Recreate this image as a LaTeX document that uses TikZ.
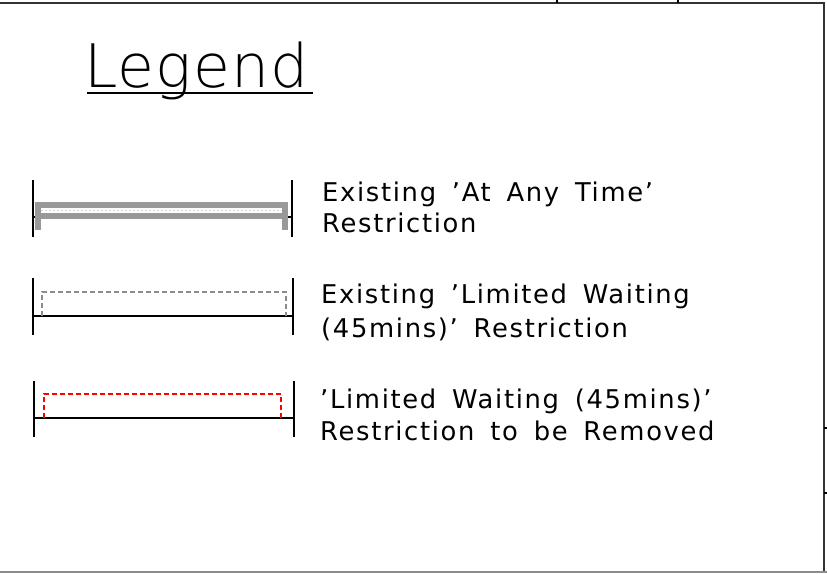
\documentclass[tikz,border=0pt]{standalone}
\usepackage{fontspec}
\newfontfamily\titlefont{DejaVu Sans ExtraLight}[LetterSpace=2]
\newfontfamily\bodyfont{DejaVu Sans}[LetterSpace=6.5,WordSpace=1.6]
\begin{document}
\begin{tikzpicture}[x=1pt,y=-1pt,
  frame/.style={line width=2pt,draw=black!80},
  tick/.style={line width=1.2pt,draw=black},
  post/.style={line width=1.6pt,draw=black},
  base/.style={line width=1.6pt,draw=black},
  atany/.style={line width=5.5pt,draw=black!40},
  atanymid/.style={line width=1pt,draw=black!15,dash pattern=on 2pt off 2pt},
  lwgrey/.style={line width=1.2pt,draw=black!45,dash pattern=on 5pt off 3pt},
  lwred/.style={line width=1.6pt,draw=red,dash pattern=on 5pt off 3pt},
  label/.style={anchor=base west,inner sep=0pt,font=\bodyfont\fontsize{25.8}{30}\selectfont},
]
\useasboundingbox (0,0) rectangle (827,573);
% frame
\draw[frame] (0,3) -- (824,3) -- (824,572);
\draw[line width=1.5pt,draw=black!45] (0,572) -- (827,572);
\draw[tick] (557,0) -- (557,3);
\draw[tick] (678,0) -- (678,3);
\draw[tick] (824,428) -- (827,428);
\draw[tick] (824,493) -- (827,493);
% title
\node[anchor=base west,inner sep=0pt,font=\titlefont\fontsize{60}{60}\selectfont] (title) at (84,87) {Legend};
\draw[line width=1.5pt] (87,93) -- (313,93);
% entry 1
\coordinate (a1) at (33,180); \coordinate (a2) at (33,237);
\coordinate (b1) at (292,180); \coordinate (b2) at (292,237);
\draw[post] (a1) -- (a2);
\draw[post] (b1) -- (b2);
\draw[base] (33,217) -- (292,217);
\draw[atany,line cap=butt,line join=miter] (38,230) -- (38,205) -- (285,205) -- (285,230);
\draw[atany] (41,216) -- (282,216);
\draw[atanymid] (41,210.5) -- (282,210.5);
\node[label] (l1a) at (322,201) {Existing ’At Any Time’};
\node[label] (l1b) at (322,232) {Restriction};
% entry 2
\draw[post] (33,278) -- (33,335);
\draw[post] (293,278) -- (293,335);
\draw[base] (33,316) -- (293,316);
\draw[lwgrey] (42,316) -- (42,292) -- (286,292) -- (286,316);
\node[label] (l2a) at (321,303) {Existing ’Limited Waiting};
\node[label] (l2b) at (321,337) {(45mins)’ Restriction};
% entry 3
\draw[post] (34,381) -- (34,437);
\draw[post] (294,381) -- (294,437);
\draw[base] (34,418) -- (294,418);
\draw[lwred] (44,418) -- (44,394) -- (281,394) -- (281,418);
\node[label] (l3a) at (320,408) {’Limited Waiting (45mins)’};
\node[label] (l3b) at (320,440) {Restriction to be Removed};
\end{tikzpicture}
\end{document}
